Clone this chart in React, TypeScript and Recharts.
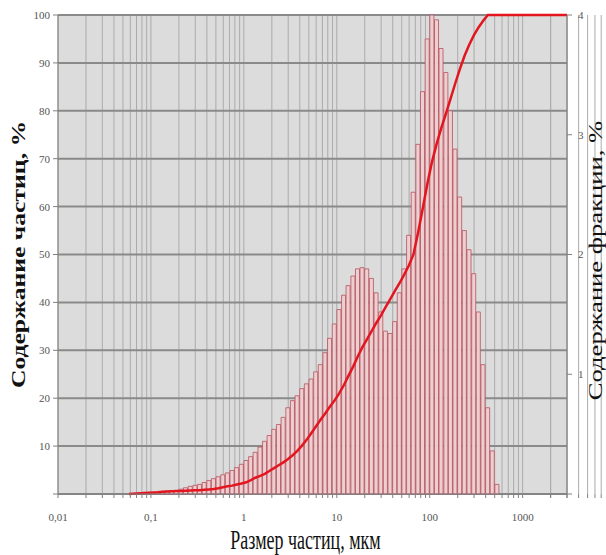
import React from 'react';
import { ComposedChart, Bar, Line, XAxis, YAxis, CartesianGrid, Label } from 'recharts';

// bin centres, µm (20 bins per decade)
const binSizes = [
  0.0841, 0.0944,
  0.106, 0.119, 0.133, 0.150, 0.168, 0.188, 0.211, 0.237, 0.266, 0.299,
  0.335, 0.376, 0.422, 0.473, 0.531, 0.596, 0.668, 0.750, 0.841, 0.944,
  1.06, 1.19, 1.33, 1.50, 1.68, 1.88, 2.11, 2.37, 2.66, 2.99,
  3.35, 3.76, 4.22, 4.73, 5.31, 5.96, 6.68, 7.50, 8.41, 9.44,
  10.6, 11.9, 13.3, 15.0, 16.8, 18.8, 21.1, 23.7, 26.6, 29.9,
  33.5, 37.6, 42.2, 47.3, 53.1, 59.6, 66.8, 75.0, 84.1, 94.4,
  106, 119, 133, 150, 168, 188, 211, 237, 266, 299,
  335, 376, 422, 473, 531,
];

// fraction content, % (right axis)
const fraction = [
  0.004, 0.008, 0.012, 0.016, 0.02, 0.024, 0.028, 0.032, 0.04, 0.052,
  0.064, 0.072, 0.08, 0.096, 0.112, 0.128, 0.144, 0.16, 0.176, 0.196,
  0.22, 0.248, 0.28, 0.312, 0.348, 0.392, 0.44, 0.488, 0.54, 0.58,
  0.64, 0.72, 0.78, 0.82, 0.88, 0.92, 0.96, 1.02, 1.08, 1.18,
  1.30, 1.42, 1.54, 1.66, 1.74, 1.82, 1.88, 1.89, 1.88, 1.80,
  1.68, 1.52, 1.36, 1.34, 1.44, 1.68, 1.88, 2.16, 2.52, 2.92,
  3.36, 3.80, 4.0, 3.96, 3.72, 3.52, 3.20, 2.88, 2.48, 2.20,
  2.04, 1.84, 1.52, 1.08, 0.72, 0.36, 0.08,
];

// cumulative content, % (left axis)
const cumulative = [
  0.2, 0.25, 0.3, 0.35, 0.45, 0.5, 0.55, 0.6, 0.65, 0.7,
  0.72, 0.76, 0.8, 0.88, 0.96, 1.05, 1.2, 1.4, 1.6, 1.75,
  2.0, 2.2, 2.45, 2.9, 3.4, 3.8, 4.2, 4.8, 5.4, 6.0,
  6.6, 7.3, 8.1, 9.0, 10.1, 11.3, 12.7, 14.1, 15.5, 16.8,
  18.2, 19.5, 21.0, 22.7, 24.6, 26.6, 28.7, 30.6, 32.3, 34.0,
  35.7, 37.3, 39.0, 40.7, 42.4, 44.0, 45.8, 47.7, 50.0, 54.6,
  59.6, 64.8, 69.4, 73.2, 76.4, 79.5, 82.6, 85.7, 88.7, 91.5,
  93.8, 95.8, 97.4, 98.8, 100, 100, 100,
];

const lineStart = { size: 0.058, cumulative: 0 };
const lineEnd = { size: 3000, cumulative: 100 };

const decades = [0.01, 0.1, 1, 10, 100, 1000];
const multipliers = [1, 2, 3, 4, 5, 6, 7, 8, 9];
const xTicks = [...decades.flatMap(d => multipliers.map(m => +(d * m).toPrecision(6))), 2000, 3000];
const leftTicks = [0, 10, 20, 30, 40, 50, 60, 70, 80, 90, 100];
const rightTicks = [0, 1, 2, 3, 4];

const data = [
  lineStart,
  ...binSizes.map((size, i) => ({ size, fraction: fraction[i], cumulative: cumulative[i] })),
  lineEnd,
];

const serif = '"Liberation Serif", "DejaVu Serif", serif';

const XTitle = ({ viewBox }: any) => (
  <text
    transform={`translate(${viewBox.x + viewBox.width / 2 - 7}, ${viewBox.y + 55}) scale(1, 1.5)`}
    textAnchor="middle"
    fontFamily={serif}
    fontSize={18}
    fill="#111"
  >
    Размер частиц, мкм
  </text>
);

const LeftTitle = ({ viewBox }: any) => (
  <text
    transform={`translate(19, ${viewBox.y + viewBox.height / 2}) rotate(-90) scale(1.35, 1)`}
    textAnchor="middle"
    dominantBaseline="central"
    fontFamily={serif}
    fontWeight="bold"
    fontSize={19}
    fill="#111"
  >
    Содержание частиц, %
  </text>
);

const RightTitle = ({ viewBox }: any) => (
  <text
    transform={`translate(595, ${viewBox.y + viewBox.height / 2 + 6}) rotate(-90) scale(1.4, 1)`}
    textAnchor="middle"
    dominantBaseline="central"
    fontFamily={serif}
    fontSize={19}
    fill="#111"
  >
    Содержание фракции, %
  </text>
);

export default function App() {
  return (
    <div>
      <style>{`body { margin: 0; background: #fff; }`}</style>
      <ComposedChart
        width={606}
        height={555}
        data={data}
        margin={{ top: 15, right: 0, bottom: 0, left: 0 }}
      >
        <CartesianGrid
          xAxisId="x"
          yAxisId="left"
          horizontal={false}
          fill="#dcdcdc"
          stroke="#ababab"
          strokeWidth={1}
        />
        <CartesianGrid
          xAxisId="x"
          yAxisId="left"
          vertical={false}
          stroke="#8a8a8a"
          strokeWidth={2}
        />
        <XAxis
          xAxisId="x"
          dataKey="size"
          type="number"
          scale="log"
          domain={[0.01, 3000]}
          allowDataOverflow
          ticks={xTicks}
          interval={0}
          tickSize={4}
          tickMargin={15}
          height={61}
          stroke="#808080"
          tick={{ fontFamily: serif, fontSize: 11, fill: '#555' }}
          tickFormatter={(v: number) => (decades.includes(v) ? String(v).replace('.', ',') : '')}
        >
          <Label content={XTitle} />
        </XAxis>
        <YAxis
          yAxisId="left"
          domain={[0, 100]}
          ticks={leftTicks}
          interval={0}
          width={58}
          tickSize={5}
          tickMargin={3}
          stroke="#808080"
          tick={{ fontFamily: serif, fontSize: 11, fill: '#555' }}
          tickFormatter={(v: number) => (v === 0 ? '' : String(v))}
        >
          <Label content={LeftTitle} />
        </YAxis>
        <YAxis
          yAxisId="right"
          orientation="right"
          domain={[0, 4]}
          ticks={rightTicks}
          interval={0}
          width={39}
          tickSize={5}
          tickMargin={6}
          stroke="#808080"
          tick={{ fontFamily: serif, fontSize: 11, fill: '#555' }}
          tickFormatter={(v: number) => (v === 0 ? '' : String(v))}
        >
          <Label content={RightTitle} />
        </YAxis>
        <Bar
          xAxisId="x"
          yAxisId="right"
          dataKey="fraction"
          barSize={4.66}
          fill="#edcfd2"
          stroke="#b5505a"
          strokeWidth={0.8}
          isAnimationActive={false}
        />
        <Line
          xAxisId="x"
          yAxisId="left"
          dataKey="cumulative"
          type="linear"
          stroke="#e3161f"
          strokeWidth={2.5}
          dot={false}
          isAnimationActive={false}
        />
      </ComposedChart>
    </div>
  );
}
